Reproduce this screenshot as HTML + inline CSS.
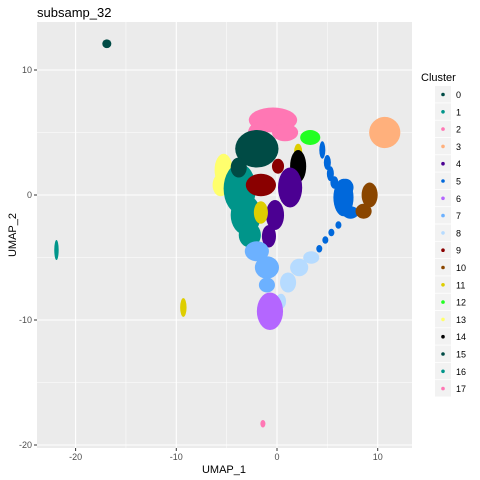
<!DOCTYPE html>
<html><head><meta charset="utf-8">
<style>
html,body{margin:0;padding:0;background:#fff;}
svg{display:block;font-family:"Liberation Sans",sans-serif;}
</style></head>
<body>
<svg id="chart" width="480" height="480" viewBox="0 0 480 480">
<text x="37" y="17" font-size="13" fill="#000">subsamp_32</text>
<rect x="37" y="22" width="375" height="426" fill="#ebebeb"/>
<g id="grid"></g>
<g id="marks"></g>
<g id="axes"></g>
<text x="224" y="473" font-size="11" text-anchor="middle" fill="#000">UMAP_1</text>
<text transform="translate(16,235) rotate(-90)" font-size="11" text-anchor="middle" fill="#000">UMAP_2</text>
<g id="legend"></g>
</svg>
<script>
const xTicks=[-20,-10,0,10];
const yTicks=[10,0,-10,-20];
const xMinor=[-15,-5,5];
const yMinor=[5,-5,-15];
const clusterNames=["0","1","2","3","4","5","6","7","8","9","10","11","12","13","14","15","16","17"];
const clusterColors=["#004B45","#00958A","#FF77B4","#FFB07C","#4B0092","#0068DB","#B466FF","#6CB1FF","#B6DBFF","#8A0000","#8A4600","#DECE00","#22FF22","#FFFF6D","#000000","#004B45","#00958A","#FF77B4"];
// blobs: cluster id, center x, center y, radius x, radius y (data units), in draw order
const blobCluster=[3,5,5,5,5,5,5,5,5,5,5,5,5,10,10,2,2,2,12,11,13,13,1,1,1,0,0,9,9,14,4,4,4,11,7,7,7,8,8,8,8,6,15,16,11,17];
const blobX=[10.7,4.5,5.0,5.3,5.7,6.6,7.3,6.1,5.4,4.8,4.2,3.7,6.8,9.2,8.6,-0.4,-1.9,0.8,3.3,2.1,-5.3,-5.6,-3.7,-3.1,-2.7,-2.0,-3.8,-1.6,0.1,2.1,1.3,-0.2,-0.8,-1.6,-2.0,-1.0,-1.0,3.4,2.2,1.1,0.4,-0.7,-16.9,-21.9,-9.3,-1.4];
const blobY=[5.0,3.6,2.6,1.7,1.0,-0.2,-1.4,-2.4,-3.0,-3.6,-4.3,-4.9,0.6,0.0,-1.3,6.0,4.9,5.0,4.6,3.5,2.0,0.8,0.5,-1.6,-3.2,3.7,2.2,0.8,2.3,2.3,0.6,-1.6,-3.3,-1.4,-4.5,-5.8,-7.2,-5.0,-5.8,-7.0,-8.5,-9.3,12.1,-4.4,-9.0,-18.3];
const blobRX=[1.55,0.3,0.35,0.35,0.4,1.0,0.8,0.3,0.3,0.3,0.3,0.3,0.8,0.8,0.8,2.4,1.0,1.3,1.0,0.4,0.9,0.8,1.6,1.5,1.1,2.15,0.8,1.5,0.6,0.8,1.2,0.9,0.7,0.7,1.2,1.2,0.8,0.8,0.9,0.8,0.5,1.3,0.45,0.22,0.32,0.25];
const blobRY=[1.25,0.7,0.6,0.6,0.5,1.5,0.5,0.3,0.3,0.3,0.3,0.3,0.7,1.0,0.6,1.0,0.9,0.7,0.6,0.6,1.3,0.9,2.0,1.6,1.0,1.5,0.8,0.9,0.6,1.3,1.6,1.2,0.9,0.9,0.8,0.9,0.6,0.5,0.7,0.8,0.6,1.5,0.35,0.8,0.75,0.3];

const NS="http://www.w3.org/2000/svg";
const X=v=>277+10.07*v;
const Y=v=>195-12.5*v;
const L=37,R=412,T=22,B=448;
function mk(tag,attrs,parent){const e=document.createElementNS(NS,tag);for(const k in attrs)e.setAttribute(k,attrs[k]);parent.appendChild(e);return e;}
const grid=document.getElementById('grid'),marks=document.getElementById('marks'),axes=document.getElementById('axes'),legend=document.getElementById('legend');
xMinor.forEach(v=>{const l=mk('line',{x1:X(v),x2:X(v),y1:T,y2:B,stroke:'#fff','stroke-width':0.5},grid);

});
yMinor.forEach(v=>{const l=mk('line',{x1:L,x2:R,y1:Y(v),y2:Y(v),stroke:'#fff','stroke-width':0.5},grid);

});
xTicks.forEach(v=>{const l=mk('line',{x1:X(v),x2:X(v),y1:T,y2:B,stroke:'#fff','stroke-width':1.1},grid);


const t=mk('line',{x1:X(v),x2:X(v),y1:B,y2:B+3,stroke:'#333','stroke-width':1},axes);


const tx=mk('text',{x:X(v),y:B+12,'font-size':9,'text-anchor':'middle',fill:'#4d4d4d'},axes);tx.textContent=v;

});
yTicks.forEach(v=>{const l=mk('line',{x1:L,x2:R,y1:Y(v),y2:Y(v),stroke:'#fff','stroke-width':1.1},grid);


const t=mk('line',{x1:L-3,x2:L,y1:Y(v),y2:Y(v),stroke:'#333','stroke-width':1},axes);


const tx=mk('text',{x:L-5,y:Y(v)+3,'font-size':9,'text-anchor':'end',fill:'#4d4d4d'},axes);tx.textContent=v;

});
blobCluster.forEach((c,i)=>{const e=mk('ellipse',{cx:X(blobX[i]),cy:Y(blobY[i]),rx:blobRX[i]*10.07,ry:blobRY[i]*12.5,fill:clusterColors[c]},marks);

});
const lt=mk('text',{x:421,y:81,'font-size':11,fill:'#000'},legend);lt.textContent='Cluster';


clusterNames.forEach((n,i)=>{const y=86+i*17.3;
const g=mk('g',{},legend);


mk('rect',{x:435,y:y,width:16,height:16.5,fill:'#f2f2f2'},g);
mk('circle',{cx:443,cy:y+8.5,r:1.8,fill:clusterColors[i]},g);
const t=mk('text',{x:456,y:y+12,'font-size':9,fill:'#000'},g);t.textContent=n;});
</script>
</body></html>
